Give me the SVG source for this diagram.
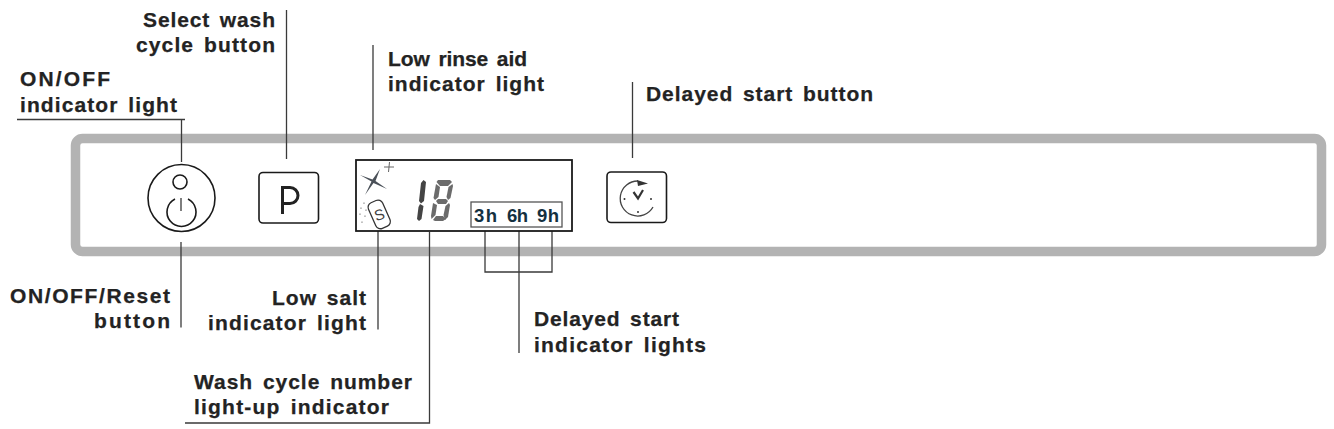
<svg xmlns="http://www.w3.org/2000/svg" width="1334" height="429" viewBox="0 0 1334 429">
<style>
.t{font-family:"Liberation Sans",Arial,sans-serif;font-size:21px;font-weight:700;fill:#232323;stroke:#232323;stroke-width:.25;word-spacing:3px}
.c{fill:none;stroke:#3a3a3a;stroke-width:1.3}
.s{fill:#fff;stroke:#1a1a1a;stroke-width:1.6}
.h{font-family:"Liberation Sans",Arial,sans-serif;font-size:18.5px;font-weight:700;fill:#14303f}
.d{fill:#444}.d2{fill:#6b6b6b}
</style>
<rect width="1334" height="429" fill="#fff"/>
<g id="panel"><rect x="75.500" y="138.500" width="1246" height="113" rx="7" fill="none" stroke="#b3b3b3" stroke-width="9.500"/></g>
<g id="connectors">
<path class="c" d="M17 119.500H185M181.500 119.500V162"/>
<path class="c" d="M286.500 10V159"/>
<path class="c" d="M373 45V150"/>
<path class="c" d="M632.500 82V158"/>
<path class="c" d="M181 242V327.500"/>
<path class="c" d="M378 226V329.500"/>
<path class="c" d="M429.500 232V423H185"/>
<path class="c" d="M485 231V272H552V228M519 231V353"/>
</g>
<g id="onoff-button">
<circle class="s" cx="181.500" cy="198" r="33.500"/>
<circle class="s" cx="180" cy="182" r="7"/>
<path class="s" style="fill:none" d="M175 199A14.500 14.500 0 1 0 188 199"/>
<path class="c" d="M181 198V211"/>
</g>
<g id="select-button">
<rect class="s" x="259" y="172.500" width="59.500" height="50.500" rx="4"/>
<path d="M282.500 214V187.500H290A8 8 0 0 1 290 203.500H282.500" fill="none" stroke="#222" stroke-width="3"/>
</g>
<g id="display">
<rect x="356" y="160" width="216" height="71" fill="#fff" stroke="#1a1a1a" stroke-width="1.800"/>
<path d="M360 175L372.500 179.500L380 169L375.500 181L387 189L373.500 183L365 195L371.500 181.500Z" fill="#4a5058"/>
<path d="M384 167H394M389.500 162L388.500 172" stroke="#666" stroke-width="1"/>
<g transform="rotate(-24 379 214.500)"><rect x="371.500" y="200.500" width="15.500" height="28" rx="5" fill="#fff" stroke="#333" stroke-width="1.300"/></g>
<text x="379.500" y="220" text-anchor="middle" transform="rotate(-18 379.500 215)" font-family="Liberation Sans, sans-serif" font-size="15" fill="#444">S</text>
<path d="M364 203v.1M361 208v.1M366 210v.1M360 214v.1M365 216v.1M362 222v.1" stroke="#444" stroke-width="1.200" stroke-linecap="round"/>
<path class="d" d="M423.500 180L426 182L424 201L421 203.500L419 201L421 183ZM420 204L423.500 206L421.500 219L419 221L417 219L418.500 207Z"/>
<g class="d2">
<path d="M438 180H450L452 182L448 186H440L436.500 182Z"/>
<path d="M436 184L440 187L438.500 197L435 200L433.500 198Z"/>
<path d="M452.500 184L453 186L450.500 198L448 200L446.500 197L448.500 187Z"/>
<path d="M436 201L438 199H446L448 201L446 204H438Z"/>
<path d="M433 203L437 205L435.500 215L431.500 219L431 216Z"/>
<path d="M449 203L450 205L448 217L445 220L443.500 215L445.500 206Z"/>
<path d="M433 220L436 216H443L446 219L443 221H435Z"/>
</g>
<rect x="471" y="202" width="91" height="25" fill="#fff" stroke="#555" stroke-width="1.300"/>
<text class="h" x="474" y="222" textLength="23">3h</text>
<text class="h" x="507" y="222" textLength="21">6h</text>
<text class="h" x="537" y="222" textLength="22">9h</text>
</g>
<g id="delay-button">
<rect class="s" x="607" y="172" width="59.500" height="50.500" rx="4"/>
<path d="M638 181A17.500 17.500 0 1 0 653 207" fill="none" stroke="#444" stroke-width="1.300"/>
<path d="M637 180L648 183.500L638 186Z" fill="#333"/>
<path d="M633.500 192L638 198.500L643 190" fill="none" stroke="#333" stroke-width="2.200"/>
<path d="M624.500 199v.1M651 199v.1M638 212v.1" stroke="#333" stroke-width="2" stroke-linecap="round"/>
</g>
<g id="labels">
<text class="t" x="143" y="27" textLength="132">Select wash</text>
<text class="t" x="136" y="52" textLength="139">cycle button</text>
<text class="t" x="20" y="86" textLength="90">ON/OFF</text>
<text class="t" x="20" y="111.500" textLength="157">indicator light</text>
<text class="t" x="388" y="66" textLength="139">Low rinse aid</text>
<text class="t" x="388" y="91" textLength="156">indicator light</text>
<text class="t" x="646" y="101" textLength="227">Delayed start button</text>
<text class="t" x="10" y="302.500" textLength="160">ON/OFF/Reset</text>
<text class="t" x="94" y="328" textLength="76">button</text>
<text class="t" x="272" y="305" textLength="94">Low salt</text>
<text class="t" x="208" y="330" textLength="158">indicator light</text>
<text class="t" x="534" y="326" textLength="145">Delayed start</text>
<text class="t" x="534" y="351.500" textLength="172">indicator lights</text>
<text class="t" x="194" y="389" textLength="218">Wash cycle number</text>
<text class="t" x="194" y="414" textLength="195">light-up indicator</text>
</g>
</svg>
